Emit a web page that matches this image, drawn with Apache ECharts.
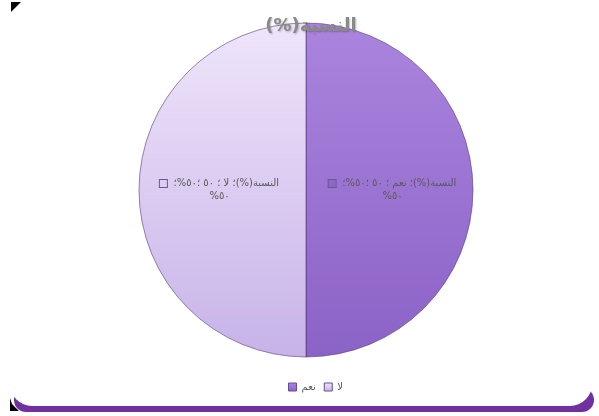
<!DOCTYPE html>
<html>
<head>
<meta charset="utf-8">
<script src="https://cdn.jsdelivr.net/npm/echarts@6/dist/echarts.min.js"></script>
<style>
  html, body { margin: 0; padding: 0; background: #ffffff; }
  #chart { width: 599px; height: 416px; direction: rtl; }
</style>
</head>
<body>
<div id="chart"></div>
<script>
// Share of answers (percent)
const seriesName = 'النسبة(%)';
const categories = ['نعم', 'لا'];
const values = [50, 50];

// slice fills: [top, bottom] of each gradient, plus label key colour
const sliceTop = ['#ab84de', '#efe5fb'];
const sliceBottom = ['#8b62c6', '#c7b3e8'];
const keyColor = ['#8e68c8', '#dccdf3'];

function arabicDigits(n) {
  const d = '٠١٢٣٤٥٦٧٨٩';
  return String(n).replace(/[0-9]/g, c => d[+c]);
}

const chart = echarts.init(document.getElementById('chart'), null, { renderer: 'canvas' });

const data = categories.map((name, i) => ({
  name: name,
  value: values[i],
  itemStyle: {
    color: new echarts.graphic.LinearGradient(0, 0, 0, 1, [
      { offset: 0, color: sliceTop[i] },
      { offset: 1, color: sliceBottom[i] }
    ])
  },
  label: { rich: { sq: { backgroundColor: keyColor[i] } } }
}));

chart.setOption({
  backgroundColor: '#ffffff',
  animation: false,
  title: {
    text: seriesName,
    left: 306,
    textAlign: 'center',
    top: 12,
    textStyle: {
      fontFamily: 'DejaVu Sans',
      fontSize: 18,
      fontWeight: 'bold',
      color: '#8a8a8a',
      textShadowColor: 'rgba(0,0,0,0.25)',
      textShadowBlur: 2,
      textShadowOffsetX: 1,
      textShadowOffsetY: 1
    }
  },
  legend: {
    data: categories,
    left: 283,
    top: 377,
    itemWidth: 8,
    itemHeight: 8,
    itemGap: 8,
    icon: 'rect',
    textStyle: { fontFamily: 'DejaVu Sans', fontSize: 10, color: '#595959' },
    itemStyle: { borderColor: '#6a4a98', borderWidth: 1 }
  },
  graphic: [
    // purple base band under the white panel
    { type: 'rect', shape: { x: 14, y: 388, width: 580, height: 24, r: 16 }, style: { fill: '#7030a0' }, z: -10, silent: true },
    { type: 'rect', shape: { x: 10, y: 2, width: 582, height: 404, r: [0, 0, 22, 22] }, style: { fill: '#ffffff' }, z: -9, silent: true },
    // dark corner marks on the left edge
    { type: 'polygon', shape: { points: [[11, 2], [21, 2], [11, 12]] }, style: { fill: '#000000' }, z: -8, silent: true },
    { type: 'polygon', shape: { points: [[10, 398], [12, 404], [19, 411], [10, 411]] }, style: { fill: '#000000' }, z: -11, silent: true }
  ],
  series: [{
    name: seriesName,
    type: 'pie',
    center: [306, 190],
    radius: [0, 167],
    startAngle: 90,
    clockwise: true,
    itemStyle: { borderColor: 'rgba(70,40,110,0.55)', borderWidth: 1 },
    label: {
      show: true,
      position: 'inside',
      align: 'center',
      lineHeight: 13,
      formatter: p => '{sq|}  ' + '{t|' + p.seriesName + '؛ ' + p.name + ' ؛ ' + arabicDigits(p.value) + ' ؛' +
        arabicDigits(Math.round(p.percent)) + '%؛}\n{t|' + arabicDigits(Math.round(p.percent)) + '%}',
      rich: {
        sq: { width: 7, height: 7, borderColor: '#6a5a88', borderWidth: 1 },
        t: { fontFamily: 'DejaVu Sans', fontSize: 10, color: '#595959', lineHeight: 13 }
      }
    },
    labelLine: { show: false },
    emphasis: { disabled: true },
    data: data
  }]
});
</script>
</body>
</html>
